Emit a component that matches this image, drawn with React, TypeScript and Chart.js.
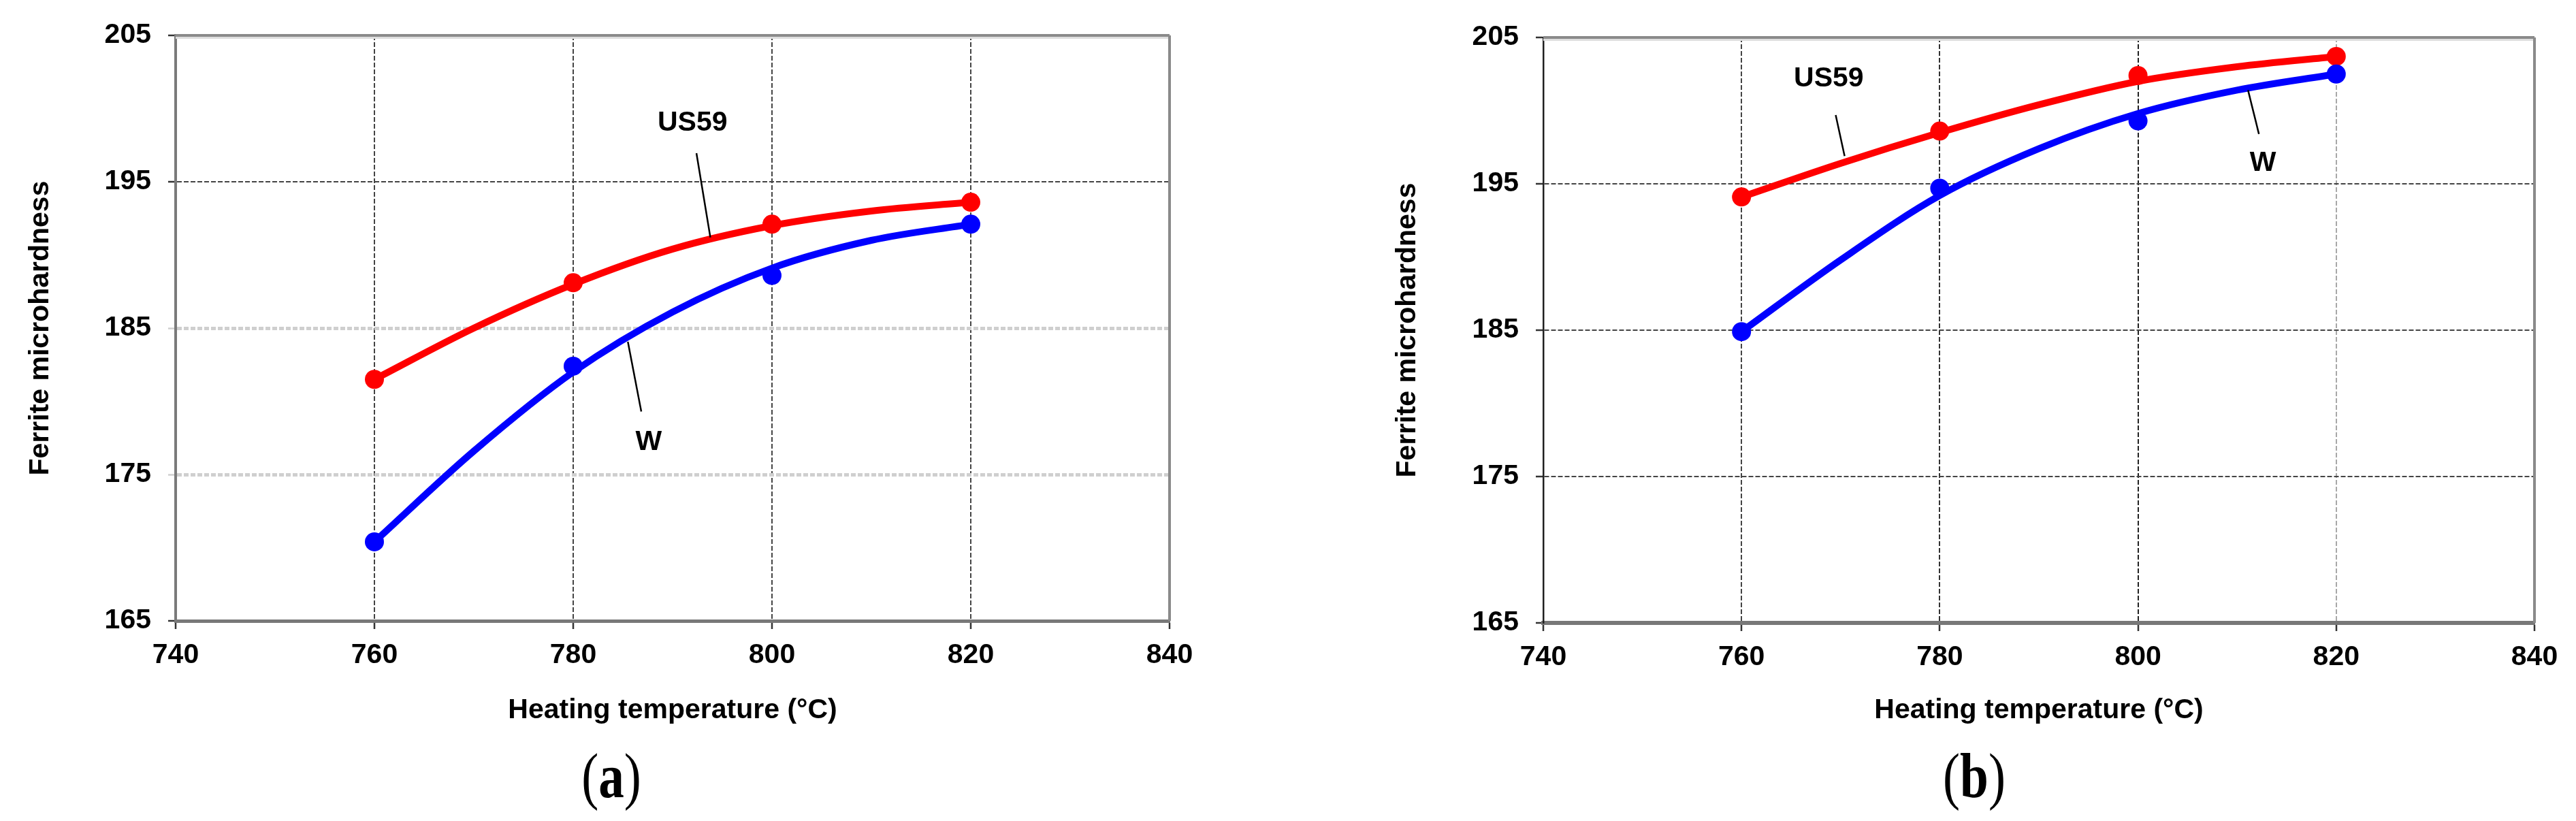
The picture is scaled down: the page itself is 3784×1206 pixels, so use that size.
import React, { useEffect, useRef } from 'react';
import { Chart, registerables } from 'chart.js';
Chart.register(...registerables);

// ---------- data ----------
const temperatures = [760, 780, 800, 820];
const curveTemperatures = [760, 770, 780, 790, 800, 810, 820];
const xTickValues = [740, 760, 780, 800, 820, 840];
const yTickValues = [165, 175, 185, 195, 205];

// panel (a): measured points and fitted trend curves
const aUS59Points = [181.5, 188.1, 192.1, 193.6];
const aWPoints = [170.4, 182.4, 188.6, 192.1];
const aUS59Curve = [181.5, 185.0, 188.0, 190.4, 192.0, 193.0, 193.6];
const aWCurve = [170.4, 176.6, 182.0, 186.1, 189.1, 191.0, 192.1];

// panel (b)
const bUS59Points = [194.1, 198.6, 202.4, 203.7];
const bWPoints = [184.9, 194.7, 199.3, 202.5];
const bUS59Curve = [194.1, 196.4, 198.5, 200.4, 202.0, 203.0, 203.7];
const bWCurve = [184.9, 189.8, 194.2, 197.4, 199.8, 201.4, 202.5];

const xTitle = 'Heating temperature (\u00B0C)';
const yTitle = 'Ferrite microhardness';

// annotation labels (data coordinates)
const aLabels = [
  { text: 'US59', x: 792.0, y: 199.0 },
  { text: 'W', x: 787.6, y: 177.2 },
];
const aLeaders = [
  { x1: 792.4, y1: 196.95, x2: 793.8, y2: 191.2 },
  { x1: 785.5, y1: 184.07, x2: 786.85, y2: 179.3 },
];
const bLabels = [
  { text: 'US59', x: 768.8, y: 202.2 },
  { text: 'W', x: 812.6, y: 196.4 },
];
const bLeaders = [
  { x1: 769.5, y1: 199.7, x2: 770.4, y2: 196.9 },
  { x1: 811.1, y1: 201.4, x2: 812.2, y2: 198.4 },
];

// ---------- styles ----------
const SANS = '"Liberation Sans", Arial, Helvetica, sans-serif';
const SERIF = '"Liberation Serif", "Times New Roman", serif';
const RED = '#ff0000';
const BLUE = '#0000ff';
const CANVAS_W = 1892;
const CANVAS_H = 1206;

type PanelCfg = {
  left: number;
  caption: string;
  captionX: number;
  captionBaseline: number;
  us59Points: number[];
  wPoints: number[];
  us59Curve: number[];
  wCurve: number[];
  labels: { text: string; x: number; y: number }[];
  leaders: { x1: number; y1: number; x2: number; y2: number }[];
  pad: { left: number; right: number; top: number; bottom: number };
  yAxisWidth: number;
  xAxisHeight: number;
  xGridColor: Record<number, string>;
  yGridColor: Record<number, string>;
  yGridWidth: Record<number, number>;
  yTickColor: Record<number, string>;
  yBorderColor: string;
  yBorderWidth: number;
  xBorderWidth: number;
};

const panels: PanelCfg[] = [
  {
    left: 0,
    caption: 'a',
    captionX: 898,
    captionBaseline: 1171,
    us59Points: aUS59Points,
    wPoints: aWPoints,
    us59Curve: aUS59Curve,
    wCurve: aWCurve,
    labels: aLabels,
    leaders: aLeaders,
    pad: { left: 35.4, right: 174, top: 52, bottom: 137.4 },
    yAxisWidth: 222.6,
    xAxisHeight: 156.6,
    xGridColor: { 760: '#444', 780: '#444', 800: '#444', 820: '#444' },
    yGridColor: { 195: '#444', 185: '#cfcfcf', 175: '#cfcfcf' },
    yGridWidth: { 195: 2, 185: 5, 175: 5 },
    yTickColor: { 165: '#333', 175: '#cfcfcf', 185: '#cfcfcf', 195: '#333', 205: '#333' },
    yBorderColor: '#7a7a7a',
    yBorderWidth: 4,
    xBorderWidth: 5,
  },
  {
    left: 1892,
    caption: 'b',
    captionX: 1008,
    captionBaseline: 1171,
    us59Points: bUS59Points,
    wPoints: bWPoints,
    us59Curve: bUS59Curve,
    wCurve: bWCurve,
    labels: bLabels,
    leaders: bLeaders,
    pad: { left: 151.4, right: 61, top: 55, bottom: 137.4 },
    yAxisWidth: 223.6,
    xAxisHeight: 153.6,
    xGridColor: { 760: '#444', 780: '#333', 800: '#222', 820: '#a8a8a8' },
    yGridColor: { 195: '#444', 185: '#444', 175: '#444' },
    yGridWidth: { 195: 2, 185: 2, 175: 2 },
    yTickColor: { 165: '#333', 175: '#333', 185: '#333', 195: '#333', 205: '#333' },
    yBorderColor: '#1f1f1f',
    yBorderWidth: 2.5,
    xBorderWidth: 6,
  },
];

function Panel({ cfg }: { cfg: PanelCfg }) {
  const ref = useRef<HTMLCanvasElement>(null);

  useEffect(() => {
    const canvas = ref.current;
    if (!canvas) return;

    const framePlugin = {
      id: 'frame',
      beforeDatasetsDraw(chart: any) {
        const { ctx, chartArea } = chart;
        ctx.save();
        ctx.strokeStyle = '#dedede';
        ctx.lineWidth = 3;
        ctx.beginPath();
        ctx.moveTo(chartArea.left, chartArea.top + 3.5);
        ctx.lineTo(chartArea.right, chartArea.top + 3.5);
        ctx.stroke();
        ctx.strokeStyle = '#8a8a8a';
        ctx.lineWidth = 4;
        ctx.beginPath();
        ctx.moveTo(chartArea.left, chartArea.top);
        ctx.lineTo(chartArea.right, chartArea.top);
        ctx.moveTo(chartArea.right, chartArea.top);
        ctx.lineTo(chartArea.right, chartArea.bottom);
        ctx.stroke();
        ctx.restore();
      },
    };

    const annotPlugin = {
      id: 'annot',
      afterDatasetsDraw(chart: any) {
        const { ctx } = chart;
        const xs = chart.scales.x;
        const ys = chart.scales.y;
        ctx.save();
        ctx.strokeStyle = '#000';
        ctx.lineWidth = 2.5;
        cfg.leaders.forEach((l) => {
          ctx.beginPath();
          ctx.moveTo(xs.getPixelForValue(l.x1), ys.getPixelForValue(l.y1));
          ctx.lineTo(xs.getPixelForValue(l.x2), ys.getPixelForValue(l.y2));
          ctx.stroke();
        });
        ctx.fillStyle = '#000';
        ctx.font = `bold 41px ${SANS}`;
        ctx.textAlign = 'center';
        ctx.textBaseline = 'middle';
        cfg.labels.forEach((t) => {
          ctx.fillText(t.text, xs.getPixelForValue(t.x), ys.getPixelForValue(t.y));
        });
        ctx.restore();
      },
      afterDraw(chart: any) {
        const { ctx } = chart;
        ctx.save();
        ctx.translate(cfg.captionX, cfg.captionBaseline);
        ctx.scale(0.8, 1);
        const reg = `94px ${SERIF}`;
        const bold = `bold 94px ${SERIF}`;
        ctx.font = reg;
        const wl = ctx.measureText('(').width;
        const wr = ctx.measureText(')').width;
        ctx.font = bold;
        const wa = ctx.measureText(cfg.caption).width;
        let x = -(wl + wa + wr) / 2;
        ctx.fillStyle = '#000';
        ctx.textAlign = 'left';
        ctx.textBaseline = 'alphabetic';
        ctx.font = reg;
        ctx.fillText('(', x, 0);
        x += wl;
        ctx.font = bold;
        ctx.fillText(cfg.caption, x, 0);
        x += wa;
        ctx.font = reg;
        ctx.fillText(')', x, 0);
        ctx.restore();
      },
    };

    const tickFont = { family: SANS, size: 41, weight: 'bold' as const };

    const chart = new Chart(canvas, {
      type: 'line',
      data: {
        datasets: [
          {
            label: 'US59 fit',
            data: curveTemperatures.map((t, i) => ({ x: t, y: cfg.us59Curve[i] })),
            borderColor: RED,
            borderWidth: 10,
            pointRadius: 0,
            cubicInterpolationMode: 'monotone',
            fill: false,
            order: 4,
          },
          {
            label: 'W fit',
            data: curveTemperatures.map((t, i) => ({ x: t, y: cfg.wCurve[i] })),
            borderColor: BLUE,
            borderWidth: 10,
            pointRadius: 0,
            cubicInterpolationMode: 'monotone',
            fill: false,
            order: 3,
          },
          {
            label: 'US59',
            data: temperatures.map((t, i) => ({ x: t, y: cfg.us59Points[i] })),
            showLine: false,
            pointRadius: 14,
            pointBackgroundColor: RED,
            pointBorderColor: RED,
            pointBorderWidth: 0,
            order: 2,
          },
          {
            label: 'W',
            data: temperatures.map((t, i) => ({ x: t, y: cfg.wPoints[i] })),
            showLine: false,
            pointRadius: 14,
            pointBackgroundColor: BLUE,
            pointBorderColor: BLUE,
            pointBorderWidth: 0,
            order: 1,
          },
        ],
      },
      options: {
        responsive: false,
        animation: false,
        devicePixelRatio: 1,
        layout: { padding: cfg.pad },
        plugins: { legend: { display: false }, tooltip: { enabled: false } },
        scales: {
          x: {
            type: 'linear',
            min: 740,
            max: 840,
            afterBuildTicks: (s: any) => {
              s.ticks = xTickValues.map((v) => ({ value: v }));
            },
            afterFit: (s: any) => {
              s.height = cfg.xAxisHeight;
            },
            ticks: {
              font: tickFont,
              color: '#000',
              padding: 14,
              maxRotation: 0,
              autoSkip: false,
            },
            grid: {
              color: (c: any) => cfg.xGridColor[c.tick?.value] ?? 'rgba(0,0,0,0)',
              lineWidth: 2,
              tickColor: '#333',
              tickWidth: 2.5,
              tickLength: 12,
            },
            border: { color: '#787878', width: cfg.xBorderWidth, dash: [7, 3] },
            title: {
              display: true,
              text: xTitle,
              font: { family: SANS, size: 41, weight: 'bold' },
              color: '#000',
              padding: 0,
            },
          },
          y: {
            type: 'linear',
            min: 165,
            max: 205,
            afterBuildTicks: (s: any) => {
              s.ticks = yTickValues.map((v) => ({ value: v }));
            },
            afterFit: (s: any) => {
              s.width = cfg.yAxisWidth;
            },
            ticks: {
              font: tickFont,
              color: '#000',
              padding: 25,
              autoSkip: false,
            },
            grid: {
              color: (c: any) => cfg.yGridColor[c.tick?.value] ?? 'rgba(0,0,0,0)',
              lineWidth: (c: any) => cfg.yGridWidth[c.tick?.value] ?? 2,
              tickColor: (c: any) => cfg.yTickColor[c.tick?.value] ?? '#333',
              tickWidth: 2.5,
              tickLength: 11,
            },
            border: { color: cfg.yBorderColor, width: cfg.yBorderWidth, dash: [7, 3] },
            title: {
              display: true,
              text: yTitle,
              font: { family: SANS, size: 41, weight: 'bold' },
              color: '#000',
              padding: 0,
            },
          },
        },
      },
      plugins: [framePlugin, annotPlugin],
    } as any);

    return () => chart.destroy();
  }, [cfg]);

  return (
    <canvas
      ref={ref}
      width={CANVAS_W}
      height={CANVAS_H}
      style={{
        position: 'absolute',
        left: cfg.left,
        top: 0,
        width: CANVAS_W,
        height: CANVAS_H,
        display: 'block',
      }}
    />
  );
}

export default function App() {
  return (
    <div
      style={{
        position: 'absolute',
        left: 0,
        top: 0,
        width: 3784,
        height: 1206,
        background: '#ffffff',
        overflow: 'hidden',
      }}
    >
      {panels.map((p) => (
        <Panel key={p.caption} cfg={p} />
      ))}
    </div>
  );
}
